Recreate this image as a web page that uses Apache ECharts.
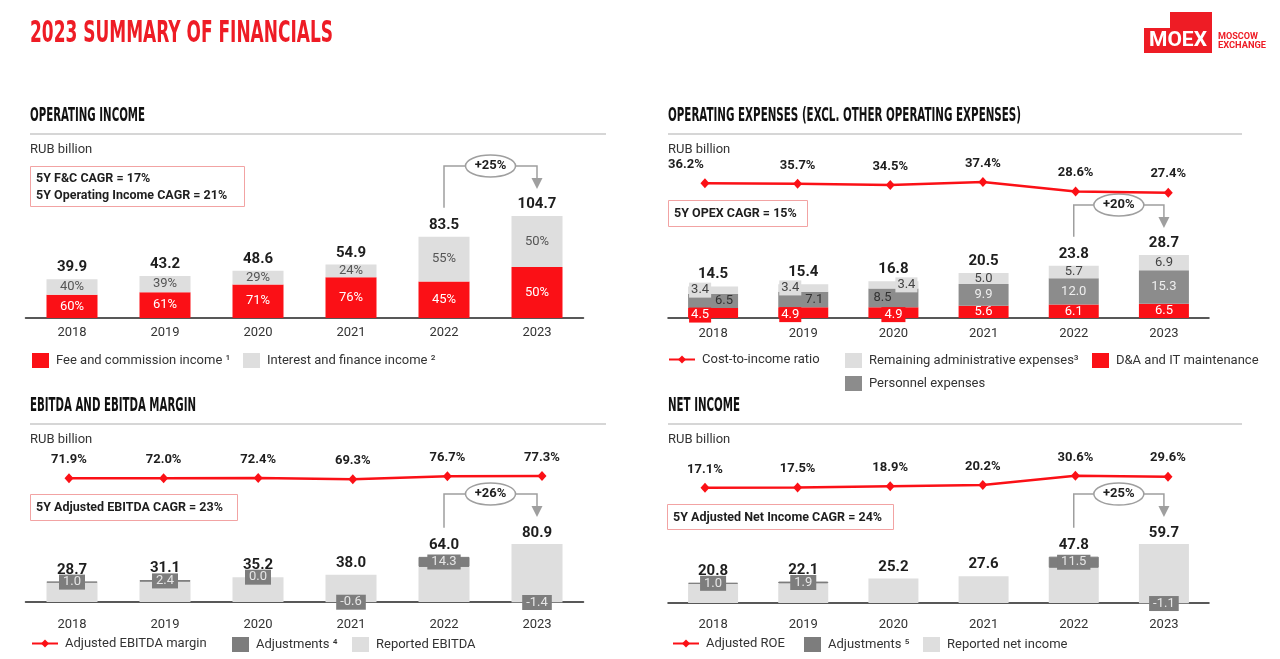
<!DOCTYPE html>
<html>
<head>
<meta charset="utf-8">
<title>2023 Summary of Financials</title>
<script src="https://cdn.jsdelivr.net/npm/echarts@6/dist/echarts.min.js"></script>
<style>
  html, body { margin: 0; padding: 0; background: #fff; }
  #main { width: 1280px; height: 659px; }
</style>
</head>
<body>
<div id="main"></div>
<script>
// ---- data ----
var years = ['2018', '2019', '2020', '2021', '2022', '2023'];

// operating income
var opIncomeTotal = [39.9, 43.2, 48.6, 54.9, 83.5, 104.7];
var feeShare = [60, 61, 71, 76, 45, 50];
var interestShare = [40, 39, 29, 24, 55, 50];

// operating expenses
var opexDA = [4.5, 4.9, 4.9, 5.6, 6.1, 6.5];
var opexPersonnel = [6.5, 7.1, 8.5, 9.9, 12.0, 15.3];
var opexAdmin = [3.4, 3.4, 3.4, 5.0, 5.7, 6.9];
var opexTotal = [14.5, 15.4, 16.8, 20.5, 23.8, 28.7];
var costToIncome = [36.2, 35.7, 34.5, 37.4, 28.6, 27.4];

// ebitda
var ebitdaAdjusted = [28.7, 31.1, 35.2, 38.0, 64.0, 80.9];
var ebitdaAdjustments = [1.0, 2.4, 0.0, -0.6, 14.3, -1.4];
var ebitdaMargin = [71.9, 72.0, 72.4, 69.3, 76.7, 77.3];

// net income
var netIncomeAdjusted = [20.8, 22.1, 25.2, 27.6, 47.8, 59.7];
var netIncomeAdjustments = [1.0, 1.9, null, null, 11.5, -1.1];
var adjustedROE = [17.1, 17.5, 18.9, 20.2, 30.6, 29.6];

var growthLabels = ['+25%', '+20%', '+26%', '+25%'];

// ---- styles ----
var RED = '#fb1016';
var LIGHT = '#dedede';
var DARK = '#8c8c8c';
var ADJ = '#7d7d7d';
var TXT = '#1e1e1e';
var bodyFont = 'Roboto, "Noto Sans", sans-serif';
var headFont = '"Liberation Sans Narrow", "DejaVu Sans Condensed", Roboto, sans-serif';

function fmt1(v) { return Number(v).toFixed(1); }

var reportedEbitda = ebitdaAdjusted.map(function (v, i) { return +(v - ebitdaAdjustments[i]).toFixed(1); });
var reportedNet = netIncomeAdjusted.map(function (v, i) { return +(v - (netIncomeAdjustments[i] || 0)).toFixed(1); });
var feeValues = opIncomeTotal.map(function (v, i) { return v * feeShare[i] / 100; });
var interestValues = opIncomeTotal.map(function (v, i) { return v * interestShare[i] / 100; });

// label tweaks for the crowded opex bars (2018-2020)
var daTweak = {
  0: { position: 'insideLeft', distance: 1, backgroundColor: RED, padding: [1, 2], offset: [0, 2] },
  1: { position: 'insideLeft', distance: 1, backgroundColor: RED, padding: [1, 2], offset: [0, 2] },
  2: { position: 'inside', backgroundColor: RED, padding: [1, 3], offset: [0, 2] }
};
var personnelTweak = {
  0: { position: 'insideRight', color: '#333' },
  1: { position: 'insideRight', color: '#333' },
  2: { position: 'insideLeft', color: '#333' }
};
var adminTweak = {
  0: { position: 'insideLeft', distance: 1, backgroundColor: LIGHT, padding: [1, 2] },
  1: { position: 'insideLeft', distance: 1, backgroundColor: LIGHT, padding: [1, 2] },
  2: { position: 'insideRight', distance: 1, backgroundColor: LIGHT, padding: [1, 2] }
};
var costLabelTweak = { 0: { offset: [-19, 0] } };

function withTweaks(values, tweaks) {
  return values.map(function (v, i) {
    return tweaks[i] ? { value: v, label: tweaks[i] } : v;
  });
}

function totalSeries(idx, values, width) {
  return {
    name: 'total' + idx, type: 'bar', xAxisIndex: idx, yAxisIndex: idx,
    barWidth: width, barGap: '-100%', silent: true, z: 1,
    itemStyle: { color: 'rgba(0,0,0,0)' },
    data: values,
    label: { show: true, position: 'top', distance: 4, fontSize: 15, fontWeight: 'bold', color: TXT,
      formatter: function (p) { return fmt1(p.value); } }
  };
}

function lineSeries(name, idx, values, tweaks) {
  return {
    name: name, type: 'line', xAxisIndex: idx, yAxisIndex: idx,
    data: withTweaks(values, tweaks || {}), symbol: 'diamond', symbolSize: [9, 10],
    itemStyle: { color: RED }, lineStyle: { color: RED, width: 2.5 },
    label: { show: true, position: 'top', distance: 7, fontSize: 13, fontWeight: 'bold', color: TXT,
      formatter: function (p) { return fmt1(p.value) + '%'; } }
  };
}

function adjustSeries(name, idx, values, stack, width) {
  return {
    name: name, type: 'bar', xAxisIndex: idx, yAxisIndex: idx, stack: stack,
    barWidth: width, barGap: '-100%', clip: false, z: 3,
    itemStyle: { color: ADJ },
    data: values.map(function (v) {
      return v > 0 ? { value: v, itemStyle: { borderColor: ADJ, borderWidth: 1 } } : v;
    }),
    label: { show: true, position: 'inside', fontSize: 13, color: '#e6e6e6', backgroundColor: ADJ,
      padding: [1, 4], formatter: function (p) { return fmt1(p.value); } }
  };
}

// grids: 0 op income, 1 opex bars, 2 opex line, 3 ebitda bars, 4 ebitda line, 5 net bars, 6 net line
var grids = [
  { left: 25.5, top: 150, width: 558, height: 168 },
  { left: 668, top: 200, width: 541, height: 118 },
  { left: 658.6, top: 150, width: 556, height: 72 },
  { left: 25.5, top: 530, width: 558, height: 72 },
  { left: 21.7, top: 456, width: 567.6, height: 51 },
  { left: 668, top: 530, width: 541, height: 73 },
  { left: 658.7, top: 440, width: 555.6, height: 63 }
];
var yMax = [172.5, 53.76, 67.3, 102.1, 127.5, 75.3, 70.8];
var labelMargin = [8, 9, 0, 16, 0, 15, 0];
var isBarGrid = [true, true, false, true, false, true, false];

var xAxes = grids.map(function (g, i) {
  return {
    type: 'category', gridIndex: i, data: years, show: isBarGrid[i],
    axisLine: { show: true, lineStyle: { color: '#222', width: 1.5 } },
    axisTick: { show: false },
    axisLabel: { fontSize: 13, color: '#333', margin: labelMargin[i] }
  };
});
var yAxes = grids.map(function (g, i) {
  return { type: 'value', gridIndex: i, min: 0, max: yMax[i], show: false, splitLine: { show: false } };
});

var series = [
  // operating income
  {
    name: 'Fee and commission income ¹', type: 'bar', xAxisIndex: 0, yAxisIndex: 0, stack: 'oi',
    barWidth: 51, barGap: '-100%', itemStyle: { color: RED }, data: feeValues,
    label: { show: true, position: 'inside', fontSize: 13, color: '#fff',
      formatter: function (p) { return feeShare[p.dataIndex] + '%'; } }
  },
  {
    name: 'Interest and finance income ²', type: 'bar', xAxisIndex: 0, yAxisIndex: 0, stack: 'oi',
    barWidth: 51, barGap: '-100%', itemStyle: { color: LIGHT }, data: interestValues,
    label: { show: true, position: 'inside', fontSize: 13, color: '#555',
      formatter: function (p) { return interestShare[p.dataIndex] + '%'; } }
  },
  totalSeries(0, opIncomeTotal, 51),

  // operating expenses
  {
    name: 'D&A and IT maintenance', type: 'bar', xAxisIndex: 1, yAxisIndex: 1, stack: 'ox',
    barWidth: 50, barGap: '-100%', itemStyle: { color: RED }, data: withTweaks(opexDA, daTweak),
    label: { show: true, position: 'inside', fontSize: 13, color: '#fff', formatter: function (p) { return fmt1(p.value); } }
  },
  {
    name: 'Personnel expenses', type: 'bar', xAxisIndex: 1, yAxisIndex: 1, stack: 'ox',
    barWidth: 50, barGap: '-100%', itemStyle: { color: DARK }, data: withTweaks(opexPersonnel, personnelTweak),
    label: { show: true, position: 'inside', fontSize: 13, color: '#eeeeee', formatter: function (p) { return fmt1(p.value); } }
  },
  {
    name: 'Remaining administrative expenses³', type: 'bar', xAxisIndex: 1, yAxisIndex: 1, stack: 'ox',
    barWidth: 50, barGap: '-100%', itemStyle: { color: LIGHT }, data: withTweaks(opexAdmin, adminTweak),
    label: { show: true, position: 'inside', fontSize: 13, color: '#444', formatter: function (p) { return fmt1(p.value); } }
  },
  totalSeries(1, opexTotal, 50),
  lineSeries('Cost-to-income ratio', 2, costToIncome, costLabelTweak),

  // ebitda
  {
    name: 'Reported EBITDA', type: 'bar', xAxisIndex: 3, yAxisIndex: 3, stack: 'eb',
    barWidth: 51, barGap: '-100%', clip: false, itemStyle: { color: LIGHT }, data: reportedEbitda
  },
  adjustSeries('Adjustments ⁴', 3, ebitdaAdjustments, 'eb', 51),
  totalSeries(3, ebitdaAdjusted, 51),
  lineSeries('Adjusted EBITDA margin', 4, ebitdaMargin),

  // net income
  {
    name: 'Reported net income', type: 'bar', xAxisIndex: 5, yAxisIndex: 5, stack: 'ni',
    barWidth: 50, barGap: '-100%', clip: false, itemStyle: { color: LIGHT }, data: reportedNet
  },
  adjustSeries('Adjustments ⁵', 5, netIncomeAdjustments, 'ni', 50),
  totalSeries(5, netIncomeAdjusted, 50),
  lineSeries('Adjusted ROE', 6, adjustedROE)
];

function legendItem(name, left, cy, kind) {
  var line = kind === 'line';
  return {
    left: left, top: cy - 6, padding: 0, itemGap: 0, selectedMode: false,
    data: [name],
    icon: line ? undefined : 'rect',
    itemWidth: line ? 26 : 17, itemHeight: line ? 10 : 15,
    textStyle: { fontSize: 13, color: '#333', fontFamily: bodyFont, padding: [0, 0, 0, 2] }
  };
}

var legends = [
  legendItem('Fee and commission income ¹', 32, 359),
  legendItem('Interest and finance income ²', 243, 359),
  legendItem('Cost-to-income ratio', 668, 359, 'line'),
  legendItem('Remaining administrative expenses³', 845, 359),
  legendItem('D&A and IT maintenance', 1092, 359),
  legendItem('Personnel expenses', 845, 382),
  legendItem('Adjusted EBITDA margin', 31, 643, 'line'),
  legendItem('Adjustments ⁴', 232, 643),
  legendItem('Reported EBITDA', 352, 643),
  legendItem('Adjusted ROE', 672, 643, 'line'),
  legendItem('Adjustments ⁵', 804, 643),
  legendItem('Reported net income', 923, 643)
];

var option = {
  animation: false,
  backgroundColor: '#fff',
  textStyle: { fontFamily: bodyFont },
  grid: grids,
  xAxis: xAxes,
  yAxis: yAxes,
  legend: legends,
  series: series
};

var chart = echarts.init(document.getElementById('main'));
chart.setOption(option);

// ---- annotations ----
var mctx = document.createElement('canvas').getContext('2d');
function fitText(text, x, y, size, width, color, family) {
  var font = 'bold ' + size + 'px ' + family;
  mctx.font = font;
  var w = mctx.measureText(text).width || width;
  return {
    type: 'text', x: x, y: y, scaleX: width / w, silent: true,
    style: { text: text, font: font, fill: color, textAlign: 'left', textVerticalAlign: 'middle' }
  };
}
function plainText(text, x, y, size, weight, color) {
  return {
    type: 'text', x: x, y: y, silent: true,
    style: { text: text, fill: color, fontSize: size, fontWeight: weight, fontFamily: bodyFont,
      textAlign: 'left', textVerticalAlign: 'middle' }
  };
}
function hline(x1, x2, y) {
  return { type: 'line', silent: true, shape: { x1: x1, y1: y, x2: x2, y2: y }, style: { stroke: '#c9c9c9', lineWidth: 1.5 } };
}
function box(x, y, w, h) {
  return { type: 'rect', silent: true, shape: { x: x, y: y, width: w, height: h }, style: { fill: '#fff', stroke: '#f2a3a3', lineWidth: 1 } };
}

function bracket(grid, v22, v23, text) {
  var p1 = chart.convertToPixel({ gridIndex: grid }, [4, v22]);
  var p2 = chart.convertToPixel({ gridIndex: grid }, [5, v23]);
  var x1 = p1[0], x2 = p2[0];
  var startY = p1[1] - 29, hy = p2[1] - 50, tipY = p2[1] - 27;
  var cx = (x1 + x2) / 2;
  var grey = '#9f9f9f';
  return [
    { type: 'polyline', silent: true, shape: { points: [[x1, startY], [x1, hy], [x2, hy], [x2, tipY - 10]] },
      style: { stroke: grey, lineWidth: 1.5, fill: null } },
    { type: 'polygon', silent: true, shape: { points: [[x2 - 5.5, tipY - 11], [x2 + 5.5, tipY - 11], [x2, tipY]] },
      style: { fill: grey } },
    { type: 'ellipse', silent: true, shape: { cx: cx, cy: hy, rx: 25, ry: 11 },
      style: { fill: '#fff', stroke: grey, lineWidth: 1.5 } },
    { type: 'text', silent: true, x: cx, y: hy,
      style: { text: text, fill: TXT, fontSize: 13, fontWeight: 'bold', fontFamily: bodyFont,
        textAlign: 'center', textVerticalAlign: 'middle' } }
  ];
}

var graphics = [
  fitText('2023 SUMMARY OF FINANCIALS', 30, 34, 31, 303, '#ee1c25', headFont),
  fitText('OPERATING INCOME', 30, 116, 20, 115, '#111', headFont),
  fitText('OPERATING EXPENSES (EXCL. OTHER OPERATING EXPENSES)', 668, 116, 20, 353, '#111', headFont),
  fitText('EBITDA AND EBITDA MARGIN', 30, 406, 20, 166, '#111', headFont),
  fitText('NET INCOME', 668, 406, 20, 72, '#111', headFont),
  hline(30, 606, 134), hline(668, 1242, 134), hline(30, 606, 424), hline(668, 1242, 424),
  plainText('RUB billion', 30, 150, 13, 'normal', '#333'),
  plainText('RUB billion', 668, 150, 13, 'normal', '#333'),
  plainText('RUB billion', 30, 440, 13, 'normal', '#333'),
  plainText('RUB billion', 668, 440, 13, 'normal', '#333'),
  box(30.5, 166.5, 214, 40),
  plainText('5Y F&C CAGR = 17%', 36, 179, 12.5, 'bold', TXT),
  plainText('5Y Operating Income CAGR = 21%', 36, 195.5, 12.5, 'bold', TXT),
  box(668.5, 200.5, 139, 26),
  plainText('5Y OPEX CAGR = 15%', 674, 214, 12.5, 'bold', TXT),
  box(30.5, 494.5, 207, 26),
  plainText('5Y Adjusted EBITDA CAGR = 23%', 36, 508, 12.5, 'bold', TXT),
  box(667.5, 504.5, 226, 25),
  plainText('5Y Adjusted Net Income CAGR = 24%', 673, 517.5, 12.5, 'bold', TXT),
  // logo
  { type: 'polygon', silent: true,
    shape: { points: [[1144, 28], [1170, 28], [1170, 12], [1212, 12], [1212, 53], [1144, 53]] },
    style: { fill: '#ee1c25' } },
  fitText('MOEX', 1149, 41, 20, 58, '#fff', bodyFont),
  fitText('MOSCOW', 1218, 36.5, 9, 40, '#ee1c25', bodyFont),
  fitText('EXCHANGE', 1218, 45.5, 9, 48, '#ee1c25', bodyFont)
];

graphics = graphics
  .concat(bracket(0, opIncomeTotal[4], opIncomeTotal[5], growthLabels[0]))
  .concat(bracket(1, opexTotal[4], opexTotal[5], growthLabels[1]))
  .concat(bracket(3, ebitdaAdjusted[4], Math.max(ebitdaAdjusted[5], reportedEbitda[5]), growthLabels[2]))
  .concat(bracket(5, netIncomeAdjusted[4], Math.max(netIncomeAdjusted[5], reportedNet[5]), growthLabels[3]));

chart.setOption({ graphic: graphics });
</script>
</body>
</html>
